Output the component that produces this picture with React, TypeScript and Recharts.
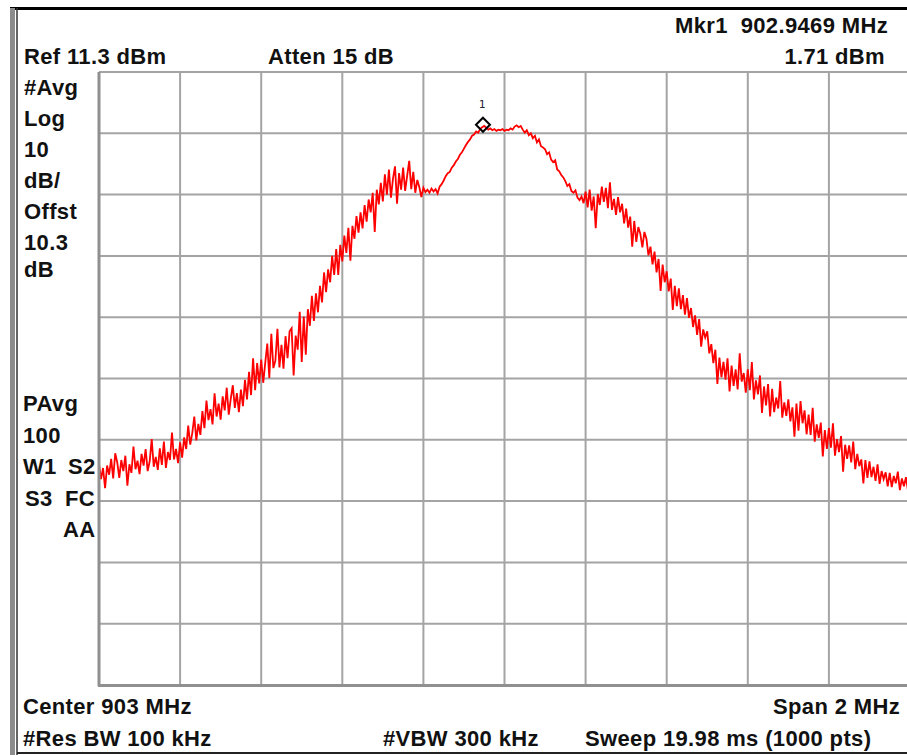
import React from 'react';
import { CartesianGrid, Line, LineChart, ReferenceDot, XAxis, YAxis } from 'recharts';

// sweep settings
const startMHz = 902;
const stepMHz = 0.005;
const refLevel = 11.3;
const dbPerDiv = 10;

const xTicks = [902, 902.2, 902.4, 902.6, 902.8, 903, 903.2, 903.4, 903.6, 903.8, 904];
const yTicks = [-88.7, -78.7, -68.7, -58.7, -48.7, -38.7, -28.7, -18.7, -8.7, 1.3, 11.3];

// trace, dBm, one value every 5 kHz
const traceLowLeft = [
  -52.6, -55.1, -53.3, -56.6, -52.9, -54.4, -51.8, -55.0, -50.9, -52.4,
  -54.9, -52.0, -53.8, -51.3, -56.2, -52.7, -54.1, -49.8, -53.5, -52.1,
  -54.3, -51.0, -52.9, -50.2, -53.8, -52.2, -48.6, -53.1, -51.5, -53.6,
  -50.1, -52.8, -49.0, -53.3, -50.7, -52.0, -47.5, -51.9, -50.2, -52.5,
  -49.1, -51.6, -48.3, -50.2, -46.4, -49.5, -47.6, -44.9, -48.8, -46.1,
  -47.9, -44.0, -46.8, -42.3, -45.5, -43.7, -46.2, -41.1, -44.9, -42.8,
  -45.4, -41.6, -43.9, -40.2, -44.6, -42.0, -39.8, -43.5, -41.1, -44.2,
  -40.5, -43.2, -38.9, -42.1, -37.6, -41.4, -35.4, -40.6, -36.2, -39.5,
  -35.6, -39.4, -36.1, -33.0, -38.6, -31.4, -37.0, -35.8, -30.6, -36.9,
  -33.2, -37.1, -31.8, -35.4, -31.0, -30.5, -38.2, -31.7, -34.0, -27.8,
];
const traceLeftHump = [
  -36.0, -28.6, -34.8, -27.4, -30.1, -25.2, -29.3, -24.8, -27.9, -23.6,
  -26.3, -21.4, -24.6, -20.9, -23.0, -18.7, -21.8, -17.6, -21.8, -16.9,
  -19.6, -15.4, -18.2, -14.1, -19.5, -13.8, -15.9, -12.2, -14.9, -11.6,
  -14.2, -10.4, -13.1, -9.5, -11.6, -8.4, -14.8, -7.9, -10.3, -6.8,
  -9.8, -5.4, -8.7, -4.6, -9.2, -6.1, -4.1, -10.2, -5.2, -7.9,
  -4.3, -8.1, -5.6, -3.2, -7.8, -5.0, -8.4, -6.3, -7.5, -9.1,
  -7.6, -8.3, -7.9, -8.4, -7.7, -8.2, -7.8, -8.5, -7.4, -7.0,
  -6.4, -5.7, -5.2, -5.0, -4.3, -3.9, -3.3, -2.9, -2.2, -1.8,
  -1.2, -0.6, -0.1, 0.3, 0.9, 1.1, 1.6, 1.4, 2.0, 2.3,
  2.5, 2.2, 1.9, 2.1, 1.8, 2.0, 1.7, 1.9, 1.8, 2.0,
];
const traceRightHump = [
  1.7, 1.9, 1.8, 2.1, 1.9, 2.4, 2.6, 2.3, 2.5, 1.9,
  1.4, 1.8, 1.0, 1.3, 0.5, 0.9, -0.2, 0.3, -0.8, -1.0,
  -1.3, -2.1, -1.8, -3.0, -3.4, -3.1, -4.6, -4.9, -5.5, -5.9,
  -6.5, -7.3, -7.0, -8.1, -8.4, -8.0, -9.2, -9.6, -9.0, -10.1,
  -8.2, -10.8, -7.9, -11.3, -9.0, -14.2, -8.6, -10.4, -7.4, -9.9,
  -7.6, -10.9, -6.7, -11.2, -9.4, -12.0, -9.1, -11.6, -10.2, -13.4,
  -11.0, -14.1, -12.3, -17.2, -13.0, -16.4, -14.0, -15.1, -17.3, -14.8,
  -15.9, -18.6, -17.2, -20.1, -18.0, -21.4, -19.2, -24.4, -20.1, -23.0,
  -21.2, -24.5, -22.4, -27.5, -23.6, -26.9, -24.0, -27.4, -25.1, -28.3,
  -25.6, -28.8, -27.2, -30.3, -28.4, -31.6, -29.0, -33.5, -30.7, -32.0,
];
const traceLowRight = [
  -31.0, -34.6, -33.1, -36.2, -34.0, -39.6, -35.3, -38.5, -36.0, -38.9,
  -35.4, -40.8, -36.6, -39.9, -37.2, -40.5, -34.6, -39.2, -37.8, -41.0,
  -37.2, -40.6, -36.0, -42.1, -39.0, -41.3, -38.2, -44.3, -40.0, -43.1,
  -39.6, -44.9, -40.4, -44.2, -41.8, -43.6, -39.1, -45.1, -42.6, -44.8,
  -42.1, -45.7, -43.4, -48.2, -42.8, -47.2, -42.4, -46.0, -43.9, -47.8,
  -44.6, -47.9, -43.5, -49.0, -46.2, -48.4, -45.9, -51.4, -47.1, -50.2,
  -46.8, -50.0, -46.0, -51.3, -48.6, -50.7, -48.1, -53.9, -49.5, -51.8,
  -49.6, -52.4, -49.0, -53.5, -51.0, -53.0, -51.9, -55.8, -52.0, -54.9,
  -52.2, -54.8, -53.1, -55.4, -52.7, -55.9, -53.8, -55.1, -54.0, -56.3,
  -54.1, -56.4, -54.6, -55.8, -53.9, -56.9, -55.0, -56.3, -54.8, -57.0,
  -55.9,
];

const traceLevels = [...traceLowLeft, ...traceLeftHump, ...traceRightHump, ...traceLowRight];
const data = traceLevels.map((v, i) => ({ f: startMHz + i * stepMHz, v }));

const markerFreq = 902.9469;
const markerLevel = 2.7;

const font = '"Liberation Sans", Arial, sans-serif';
const txt = { fontFamily: font, fontWeight: 700, fontSize: 22, fill: '#111', letterSpacing: 0.35 } as const;

const leftNotes = [
  { t: '#Avg', x: 24, y: 95 },
  { t: 'Log', x: 24, y: 126 },
  { t: '10', x: 24, y: 157 },
  { t: 'dB/', x: 24, y: 188 },
  { t: 'Offst', x: 24, y: 219 },
  { t: '10.3', x: 24, y: 250 },
  { t: 'dB', x: 24, y: 277 },
  { t: 'PAvg', x: 23, y: 411 },
  { t: '100', x: 23, y: 443 },
  { t: 'W1', x: 23, y: 474 },
  { t: 'S2', x: 68, y: 474 },
  { t: 'S3', x: 25, y: 506 },
  { t: 'FC', x: 65, y: 506 },
  { t: 'AA', x: 63, y: 537 },
];

function Marker(props: any) {
  const { cx, cy } = props;
  const r = 7;
  return (
    <g>
      <path
        d={`M${cx},${cy - r} L${cx + r},${cy} L${cx},${cy + r} L${cx - r},${cy} Z`}
        fill="none"
        stroke="#000"
        strokeWidth={2}
      />
      <text x={cx - 1} y={cy - 17} textAnchor="middle" fontFamily="DejaVu Sans Mono" fontSize={11} fill="#223">
        1
      </text>
    </g>
  );
}

export default function App() {
  return (
    <div style={{ position: 'absolute', left: 0, top: 0, width: 907, height: 755, overflow: 'hidden', background: '#fff' }}>
      <div style={{ position: 'absolute', left: 0, top: 0 }}>
        <LineChart width={911} height={755} data={data} margin={{ top: 72, left: 99, right: 1, bottom: 70 }}>
          <CartesianGrid stroke="#a4a4a4" strokeWidth={2} />
          <XAxis dataKey="f" type="number" domain={[902, 904]} ticks={xTicks} hide />
          <YAxis type="number" domain={[refLevel - 10 * dbPerDiv, refLevel]} ticks={yTicks} hide />
          <Line
            dataKey="v"
            type="linear"
            stroke="#ff0000"
            strokeWidth={1.8}
            dot={false}
            isAnimationActive={false}
          />
          <ReferenceDot x={markerFreq} y={markerLevel} r={7} shape={Marker} />
        </LineChart>
      </div>
      <svg width={907} height={755} style={{ position: 'absolute', left: 0, top: 0, pointerEvents: 'none' }}>
        <line x1={10} y1={8.5} x2={907} y2={8.5} stroke="#000" strokeWidth={3} />
        <rect x={10} y={8} width={5} height={747} fill="#8c8c8c" />
        <line x1={17} y1={8} x2={17} y2={755} stroke="#333" strokeWidth={1.5} />
        <line x1={17} y1={753} x2={907} y2={753} stroke="#222" strokeWidth={2} />
        <line x1={99} y1={72} x2={99} y2={686} stroke="#909090" strokeWidth={3} />
        <line x1={98} y1={685.5} x2={907} y2={685.5} stroke="#909090" strokeWidth={3} />

        <text {...txt} x={24} y={64}>Ref 11.3 dBm</text>
        <text {...txt} x={268} y={64}>Atten 15 dB</text>
        <text {...txt} x={888} y={33} textAnchor="end" style={{ whiteSpace: 'pre' }}>{'Mkr1  902.9469 MHz'}</text>
        <text {...txt} x={885} y={64} textAnchor="end">1.71 dBm</text>

        {leftNotes.map((n) => (
          <text key={n.t + n.y} {...txt} x={n.x} y={n.y}>
            {n.t}
          </text>
        ))}

        <text {...txt} x={23} y={714}>Center 903 MHz</text>
        <text {...txt} x={900} y={714} textAnchor="end">Span 2 MHz</text>
        <text {...txt} x={23} y={746}>#Res BW 100 kHz</text>
        <text {...txt} x={383} y={746}>#VBW 300 kHz</text>
        <text {...txt} x={585} y={746}>Sweep 19.98 ms (1000 pts)</text>
      </svg>
    </div>
  );
}
